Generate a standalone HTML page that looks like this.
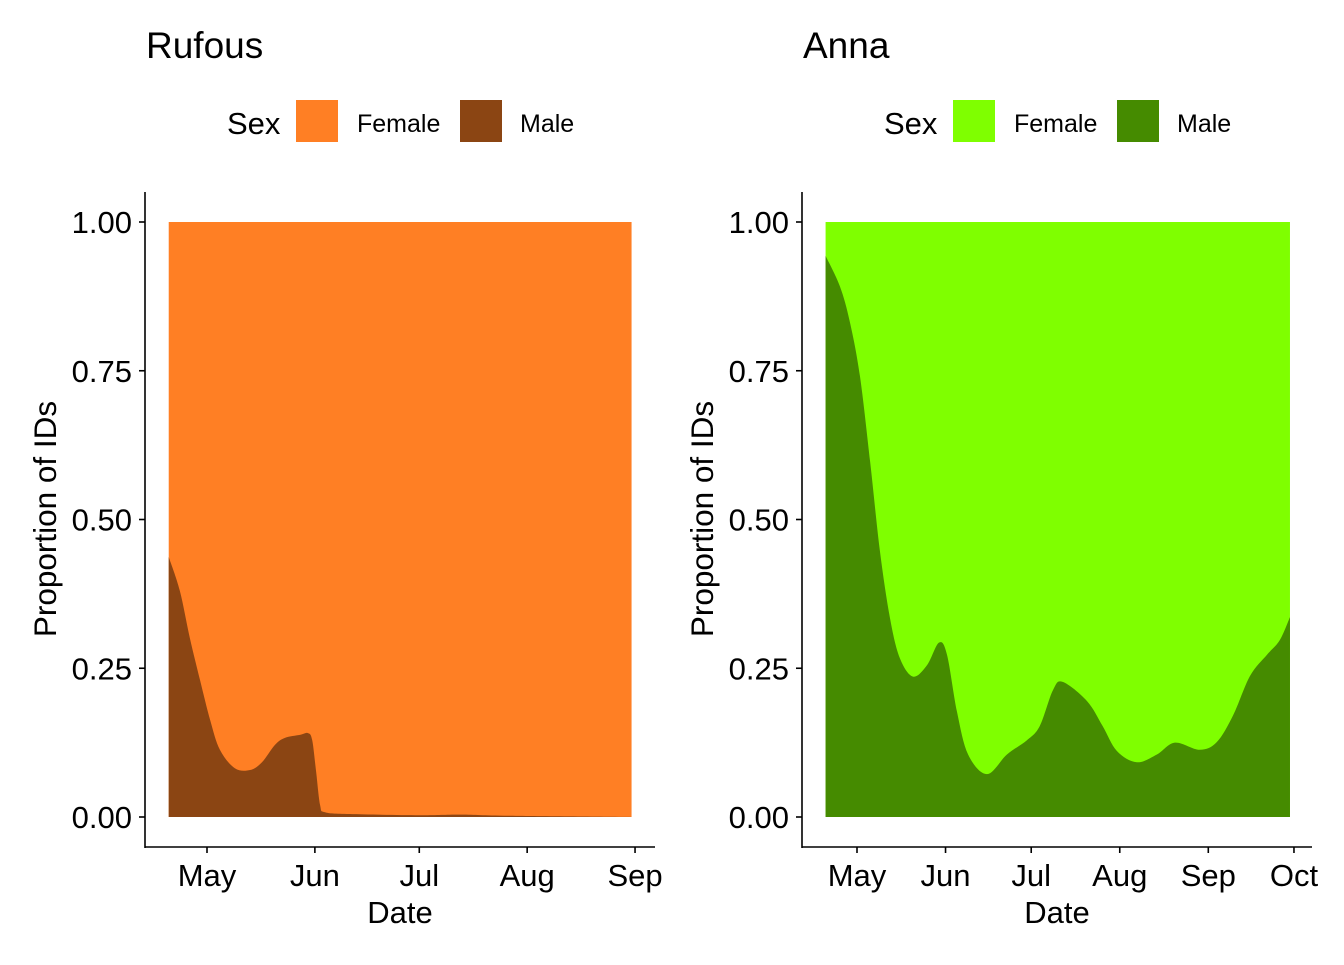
<!DOCTYPE html>
<html><head><meta charset="utf-8"><style>
html,body{margin:0;padding:0;background:#fff;}
svg text{font-family:"Liberation Sans",Arial,sans-serif;fill:#000;}
</style></head><body>
<svg id="chart" width="1344" height="960" viewBox="0 0 1344 960" xmlns="http://www.w3.org/2000/svg"></svg>
<script>
// Rufous data: day-of-year, male proportion
const rufDays = [110,113.2,116.1,119,121.9,124.7,129,133.4,136.8,140.5,143.4,147.7,150,151.2,152.3,153.5,154.9,162,182,194,208,243];
const rufMale = [0.437,0.38,0.30,0.23,0.163,0.113,0.082,0.079,0.092,0.121,0.133,0.138,0.141,0.13,0.079,0.02,0.008,0.005,0.003,0.004,0.002,0.0];
// Anna data
const annaDays = [110,115,118.5,122,125.6,129,132.6,136,140.6,145.5,149.7,152.5,156,159.9,166.5,173.5,180.5,185,189.6,193,201.5,207,212,219,226,232.3,241,247,252.7,258.6,264.6,269,272.6];
const annaMale = [0.943,0.892,0.832,0.742,0.597,0.448,0.333,0.267,0.236,0.255,0.293,0.273,0.177,0.105,0.072,0.105,0.129,0.153,0.213,0.227,0.195,0.153,0.111,0.092,0.105,0.125,0.113,0.126,0.171,0.237,0.273,0.297,0.336];
const yTicks = [0,0.25,0.5,0.75,1];
const yTickLabels = ["0.00","0.25","0.50","0.75","1.00"];
const rufMonthDays = [121,152,182,213,244];
const rufMonthLabels = ["May","Jun","Jul","Aug","Sep"];
const annaMonthDays = [121,152,182,213,244,274];
const annaMonthLabels = ["May","Jun","Jul","Aug","Sep","Oct"];

const NS="http://www.w3.org/2000/svg";
const svg=document.getElementById('chart');
function mk(tag,attrs,parent){const e=document.createElementNS(NS,tag);for(const k in attrs)e.setAttribute(k,attrs[k]);(parent||svg).appendChild(e);return e;}
function txt(s,attrs,parent){const e=mk('text',attrs,parent);e.textContent=s;return e;}

function panel(cfg){
  const g=mk('g',{});
  
  
  const x=d=>cfg.x0+(d-121)*cfg.pxDay;
  const y=v=>817-v*595;
  const d0=cfg.days[0], d1=cfg.days[cfg.days.length-1];
  const fem=mk('rect',{x:x(d0),y:y(1),width:x(d1)-x(d0),height:595,fill:cfg.fcol},g);
  
  
  const pts=cfg.days.map((d,i)=>[x(d),y(cfg.vals[i])]);
  let p=`M${x(d0)},${y(0)} L${pts[0][0]},${pts[0][1]}`;
  for(let i=0;i<pts.length-1;i++){
    const a=pts[Math.max(0,i-1)],b=pts[i],c=pts[i+1],d=pts[Math.min(pts.length-1,i+2)];
    const c1=[b[0]+(c[0]-a[0])/6,b[1]+(c[1]-a[1])/6],c2=[c[0]-(d[0]-b[0])/6,c[1]-(d[1]-b[1])/6];
    p+=` C${c1[0]},${Math.min(c1[1],817)} ${c2[0]},${Math.min(c2[1],817)} ${c[0]},${c[1]}`;
  }
  p+=` L${x(d1)},${y(0)} Z`;
  const male=mk('path',{d:p,fill:cfg.mcol},g);
  
  
  const ax=cfg.axisX;
  mk('line',{x1:ax,y1:192,x2:ax,y2:848,stroke:'#000','stroke-width':1.6},g);
  mk('line',{x1:ax,y1:847,x2:ax+510,y2:847,stroke:'#000','stroke-width':1.6},g);
  yTicks.forEach((v,i)=>{
    mk('line',{x1:ax-6,y1:y(v),x2:ax,y2:y(v),stroke:'#000','stroke-width':1.6},g);
    const t=txt(yTickLabels[i],{x:ax-13,y:y(v)+11,'font-size':31,'text-anchor':'end'},g);
    
    
  });
  cfg.mDays.forEach((d,i)=>{
    mk('line',{x1:x(d),y1:847,x2:x(d),y2:853,stroke:'#000','stroke-width':1.6},g);
    const t=txt(cfg.mLabels[i],{x:x(d),y:886,'font-size':31,'text-anchor':'middle'},g);
    
    
  });
  const xt=txt('Date',{x:ax+255,y:923,'font-size':31,'text-anchor':'middle'},g);
  
  
  const yt=txt('Proportion of IDs',{x:0,y:0,'font-size':31.5,'text-anchor':'middle',transform:`translate(${ax-89},519) rotate(-90)`},g);
  
  
  const ti=txt(cfg.title,{x:ax+1,y:58,'font-size':37},g);
  
  
  const lg=mk('g',{},g);
  
  
  txt('Sex',{x:ax+82,y:134,'font-size':31},lg);
  mk('rect',{x:ax+151,y:100,width:42,height:42,fill:cfg.fcol},lg);
  txt('Female',{x:ax+212,y:132,'font-size':25},lg);
  mk('rect',{x:ax+315,y:100,width:42,height:42,fill:cfg.mcol},lg);
  txt('Male',{x:ax+375,y:132,'font-size':25},lg);
}
panel({name:'rufous',title:'Rufous',x0:207,pxDay:3.48,axisX:145,days:rufDays,vals:rufMale,fcol:'#FF7F24',mcol:'#8B4513',mDays:rufMonthDays,mLabels:rufMonthLabels});
panel({name:'anna',title:'Anna',x0:857,pxDay:2.856,axisX:802,days:annaDays,vals:annaMale,fcol:'#7FFF00',mcol:'#458B00',mDays:annaMonthDays,mLabels:annaMonthLabels});
</script>
</body></html>
